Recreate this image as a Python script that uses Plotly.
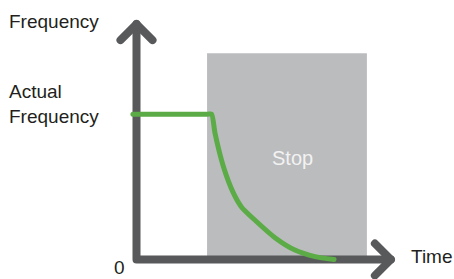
import plotly.graph_objects as go

# ---- data (time in s, frequency normalised to the actual frequency = 1) ----
curve_time = [-0.15, 1.5, 2.95, 3.13, 3.27, 3.62, 4.03, 4.38, 4.94, 5.77, 6.60, 7.44, 8.23]
curve_freq = [1.0, 1.0, 1.0, 1.0, 0.87, 0.64, 0.46, 0.36, 0.27, 0.15, 0.065, 0.02, 0.0]

stop_start = 2.94
stop_end = 9.6
stop_top = 1.42

axis_time_max = 10.6
axis_freq_max = 1.62
arrow_dt = 0.667
arrow_df = 0.11

# ---- layout constants ----
W, H = 454, 279
X0_PX, Y0_PX = 136.5, 259.5   # pixel of origin
PX_PER_T, PX_PER_F = 24.0, 145.3

x_range = [-X0_PX / PX_PER_T, (W - X0_PX) / PX_PER_T]
y_range = [-(H - Y0_PX) / PX_PER_F, Y0_PX / PX_PER_F]

AXIS_COLOR = "#58595b"
GREEN = "#5bac46"
GREY = "#bbbcbe"
TEXT = "#231f20"
FONT = "Liberation Sans, Arial, sans-serif"

fig = go.Figure()

# axes (L shape)
fig.add_trace(go.Scatter(
    x=[0, 0, axis_time_max], y=[axis_freq_max, 0, 0],
    mode="lines", line=dict(color=AXIS_COLOR, width=8),
    hoverinfo="skip", showlegend=False))
# arrowheads
fig.add_trace(go.Scatter(
    x=[-arrow_dt, 0, arrow_dt],
    y=[axis_freq_max - arrow_df, axis_freq_max, axis_freq_max - arrow_df],
    mode="lines", line=dict(color=AXIS_COLOR, width=8),
    hoverinfo="skip", showlegend=False))
fig.add_trace(go.Scatter(
    x=[axis_time_max - arrow_dt, axis_time_max, axis_time_max - arrow_dt],
    y=[arrow_df, 0, -arrow_df],
    mode="lines", line=dict(color=AXIS_COLOR, width=8),
    hoverinfo="skip", showlegend=False))

# frequency curve
fig.add_trace(go.Scatter(
    x=curve_time, y=curve_freq, mode="lines",
    line=dict(color=GREEN, width=5, shape="spline", smoothing=0.6),
    hoverinfo="skip", showlegend=False))

# stop region
fig.add_shape(type="rect", x0=stop_start, x1=stop_end, y0=0, y1=stop_top,
              fillcolor=GREY, line=dict(width=0), layer="below")


def px(x):
    return x / W


def py(y):
    return 1 - y / H


ann = [
    dict(text="Frequency", x=px(7), y=py(22), xanchor="left", yanchor="middle"),
    dict(text="Actual<br>Frequency", x=px(7), y=py(104), xanchor="left",
         yanchor="middle", align="left"),
    dict(text="0", x=px(119.5), y=py(267.6), xanchor="center", yanchor="middle"),
    dict(text="Time", x=px(409), y=py(256), xanchor="left", yanchor="middle"),
]
for a in ann:
    fig.add_annotation(xref="paper", yref="paper", showarrow=False,
                       font=dict(family=FONT, size=19, color=TEXT), **a)
fig.add_annotation(xref="paper", yref="paper", showarrow=False,
                   text="Stop", x=px(292.5), y=py(157.6),
                   xanchor="center", yanchor="middle",
                   font=dict(family=FONT, size=20, color="#f2f2f2"))

fig.update_layout(
    width=W, height=H,
    margin=dict(l=0, r=0, t=0, b=0),
    paper_bgcolor="white", plot_bgcolor="white",
    xaxis=dict(range=x_range, visible=False, fixedrange=True),
    yaxis=dict(range=y_range, visible=False, fixedrange=True),
    showlegend=False,
)

post = """
document.body.style.margin = '0';
document.body.style.padding = '0';
var s = document.createElement('style');
s.innerHTML = 'body{margin:0;padding:0;overflow:hidden;} .js-line{stroke-linecap:round !important;stroke-linejoin:round !important;}';
document.head.appendChild(s);
"""

fig.write_html("out.html", post_script=post, config={"displayModeBar": False})
